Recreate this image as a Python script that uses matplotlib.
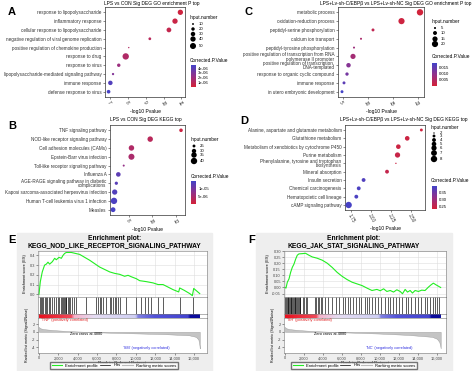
import numpy as np
import matplotlib.pyplot as plt
from matplotlib.colors import LinearSegmentedColormap, Normalize
from matplotlib.lines import Line2D
from matplotlib.patches import Rectangle

plt.rcParams['font.family'] = ['Liberation Sans', 'DejaVu Sans']

# ---------------- data ----------------
a_terms = ["response to lipopolysaccharide", "inflammatory response",
           "cellular response to lipopolysaccharide",
           "negative regulation of viral genome replication",
           "positive regulation of chemokine production", "response to drug",
           "response to virus", "lipopolysaccharide-mediated signaling pathway",
           "immune response", "defense response to virus"]
a_logp = [10.94, 10.64, 10.30, 9.23, 8.05, 7.88, 7.49, 7.17, 7.02, 6.92]
a_count = [40, 40, 33, 15, 8, 55, 20, 12, 30, 22]
a_padj = [2e-7, 4e-7, 6e-7, 1.0e-6, 1.2e-6, 1.3e-6, 2.0e-6, 2.8e-6, 4.2e-6, 4.5e-6]

b_terms = ["TNF signaling pathway", "NOD-like receptor signaling pathway",
           "Cell adhesion molecules (CAMs)", "Epstein-Barr virus infection",
           "Toll-like receptor signaling pathway", "Influenza A",
           "AGE-RAGE signaling pathway in diabetic\ncomplications",
           "Kaposi sarcoma-associated herpesvirus infection",
           "Human T-cell leukemia virus 1 infection", "Measles"]
b_logp = [12.46, 9.83, 8.23, 8.23, 7.57, 7.11, 6.94, 6.80, 6.74, 6.66]
b_count = [27, 35, 35, 38, 23, 31, 26, 34, 40, 32]
b_padj = [1e-6, 3e-6, 4e-6, 4.5e-6, 7e-6, 1.2e-5, 1.25e-5, 1.3e-5, 1.35e-5, 1.4e-5]

c_terms = ["metabolic process", "oxidation-reduction process",
           "peptidyl-serine phosphorylation", "calcium ion transport",
           "peptidyl-tyrosine phosphorylation",
           "positive regulation of transcription from RNA\npolymerase II promoter",
           "positive regulation of transcription,\nDNA-templated",
           "response to organic cyclic compound", "immune response",
           "in utero embryonic development"]
c_logp = [20.5, 16.8, 11.1, 8.7, 7.3, 7.1, 6.2, 5.9, 5.3, 4.9]
c_count = [21, 20, 7, 5, 5, 15, 12, 8, 7, 7]
c_padj = [0.0004, 0.001, 0.003, 0.006, 0.008, 0.007, 0.011, 0.013, 0.016, 0.019]

d_terms = ["Alanine, aspartate and glutamate metabolism", "Glutathione metabolism",
           "Metabolism of xenobiotics by cytochrome P450", "Purine metabolism",
           "Phenylalanine, tyrosine and tryptophan\nbiosynthesis",
           "Mineral absorption", "Insulin secretion", "Chemical carcinogenesis",
           "Hematopoietic cell lineage", "cAMP signaling pathway"]
d_logp = [2.625, 2.45, 2.34, 2.33, 2.31, 2.20, 1.91, 1.85, 1.82, 1.725]
d_count = [3, 5, 5, 6, 2, 4, 4, 4, 4, 8]
d_padj = [0.235, 0.24, 0.24, 0.245, 0.24, 0.25, 0.385, 0.39, 0.39, 0.395]

e_rank = [0, 140, 340, 580, 760, 930, 1100, 1380, 1620, 1790, 2070, 2310, 2480,
          2650, 2820, 3340, 4200, 5230, 6260, 7300, 7810, 8330, 8840, 9190, 9530,
          10050, 10390, 11080, 11770, 12290, 12800, 13300, 13830, 14420, 14520,
          15000, 15560, 15830, 15970, 16590]
e_es = [0.0, 0.13, 0.23, 0.30, 0.31, 0.33, 0.31, 0.335, 0.37, 0.355, 0.38, 0.37,
        0.40, 0.42, 0.43, 0.43, 0.41, 0.35, 0.28, 0.23, 0.215, 0.205, 0.185, 0.195,
        0.18, 0.16, 0.14, 0.13, 0.117, 0.10, 0.10, 0.075, 0.048, 0.024, 0.065,
        0.04, 0.007, -0.014, 0.06, 0.007]
e_hits = [60, 170, 280, 410, 580, 760, 830, 1030, 1170, 1380, 1510, 1790, 1960,
          2070, 2310, 2410, 2480, 2550, 2650, 2750, 2820, 2990, 3100, 3230, 3440,
          3580, 3850, 4890, 5920, 6130, 6260, 6430, 6600, 6880, 7290, 7470, 7640,
          7810, 7980, 8160, 8330, 9020, 10050, 10560, 10910, 11250, 11600, 12280,
          12800, 14520, 15900]
e_met_rank = [0, 100, 500, 1500, 3000, 4880, 7000, 10000, 13000, 15500, 16200,
              16450, 16560, 16590]
e_met = [1.3, 0.95, 0.7, 0.45, 0.2, 0.0, -0.2, -0.4, -0.6, -0.9, -1.3, -2.0,
         -3.5, -4.3]

f_rank = [0, 105, 245, 420, 594, 769, 944, 1119, 1294, 1469, 1818, 2168, 2517,
          2867, 3392, 3916, 4441, 4965, 5490, 6014, 6538, 7063, 7587, 8112, 8636,
          9161, 9685, 10035, 10385, 10734, 11084, 11434, 11783, 12133, 12378, 12657,
          12902, 13182, 13427, 13706, 14056, 14406, 14755, 15105, 15385, 15630,
          15909, 16154, 16399]
f_es = [0.0, -0.005, 0.044, 0.071, 0.126, 0.167, 0.194, 0.235, 0.268, 0.279,
        0.281, 0.284, 0.268, 0.254, 0.243, 0.227, 0.202, 0.167, 0.126, 0.093,
        0.066, 0.044, 0.030, 0.016, -0.005, -0.025, -0.016, -0.027, -0.011,
        -0.033, -0.025, -0.038, -0.019, -0.033, -0.052, -0.016, -0.038, -0.025,
        -0.046, -0.025, -0.033, -0.022, -0.025, 0.003, 0.022, 0.036, 0.022,
        0.011, 0.0]
f_hits = [50, 120, 200, 280, 350, 420, 520, 600, 680, 760, 850, 930, 1020, 1100,
          1180, 1280, 1360, 1450, 1540, 1620, 1900, 2050, 2200, 2350, 3150, 3300,
          3450, 3600, 3800, 3950, 4200, 4500, 4900, 5400, 5700, 6100, 6300, 6600,
          6900, 7200, 7500, 7800, 8000, 8400, 8600, 8900, 9200, 9500, 9800, 10100,
          10500, 10800, 11100, 11400, 11700, 12000, 12350, 12700, 13000, 13300,
          13700, 14000, 14300, 14700, 15000, 15300, 15600, 15800, 16000, 16200]
f_met_rank = [0, 100, 500, 1500, 3000, 4880, 7000, 10000, 13000, 15500, 16000,
              16250, 16350, 16400]
f_met = [1.3, 0.95, 0.7, 0.45, 0.2, 0.0, -0.2, -0.45, -0.8, -1.3, -1.8, -2.6,
         -3.6, -4.3]

# ---------------- layout helpers ----------------
W, H = 474, 371
fig = plt.figure(figsize=(W / 100, H / 100), dpi=100)


def px_axes(l, t, r, b, **kw):
    return fig.add_axes([l / W, 1 - b / H, (r - l) / W, (b - t) / H], **kw)


overlay = px_axes(0, 0, W, H)
overlay.set_xlim(0, W)
overlay.set_ylim(H, 0)
overlay.axis('off')
overlay.set_zorder(5)

cmap = LinearSegmentedColormap.from_list('rb', ['#d42238', '#93318a', '#4343c8'])


def size_of(n, lo, hi):
    return 1 + 20 * (np.asarray(n, float) - lo) / (hi - lo)


def dot_panel(box, terms, logp, count, padj, xlim, xticks, xticklabels, vlim,
              slo, shi, title, title_xy, breaks, leg_x, leg_title_y, leg_ys,
              cb_box, cticks, ctick_labels, ctitle_y):
    ax = px_axes(*box)
    n = len(terms)
    y = np.arange(n)[::-1]
    norm = Normalize(*vlim)
    ax.scatter(logp, y, s=size_of(count, slo, shi), c=padj, cmap=cmap, norm=norm,
               linewidths=0, zorder=3)
    ax.set_ylim(-0.6, n - 0.4)
    ax.set_xlim(*xlim)
    ax.set_yticks(y)
    ax.set_yticklabels(terms, fontsize=3.3, linespacing=0.9)
    ax.set_xticks(xticks)
    ax.set_xticklabels(xticklabels, fontsize=3.4, rotation=-60, ha='left',
                       rotation_mode='anchor')
    ax.tick_params(length=1.5, width=0.4, pad=1, colors='#333333')
    ax.set_xlabel('-log10 Pvalue', fontsize=3.6, labelpad=1)
    for s in ax.spines.values():
        s.set_linewidth(0.5)
        s.set_color('#333333')
    overlay.text(title_xy[0], title_xy[1], title, fontsize=3.5, ha='center',
                 va='center')
    # size legend
    overlay.text(leg_x, leg_title_y, 'Input.number', fontsize=3.4, va='center')
    overlay.scatter([leg_x + 3] * len(breaks), leg_ys, s=size_of(breaks, slo, shi),
                    c='black', linewidths=0)
    for b, yy in zip(breaks, leg_ys):
        overlay.text(leg_x + 9, yy, str(b), fontsize=3.1, va='center')
    # color legend
    overlay.text(leg_x, ctitle_y, 'Corrected.P.Value', fontsize=3.4, va='center')
    cax = px_axes(*cb_box)
    grad = np.linspace(vlim[0], vlim[1], 200)[:, None]
    cax.imshow(grad, aspect='auto', cmap=cmap, norm=norm, origin='lower',
               extent=[0, 1, vlim[0], vlim[1]])
    cax.set_xticks([])
    cax.yaxis.tick_right()
    cax.set_yticks(cticks)
    cax.set_yticklabels(ctick_labels, fontsize=3.1)
    cax.tick_params(axis='y', length=0, pad=2)
    for s in cax.spines.values():
        s.set_visible(False)
    return ax


dot_panel((105, 7, 185, 97), a_terms, a_logp, a_count, a_padj, (6.72, 11.2),
          [7, 8, 9, 10, 11], ['7', '8', '9', '10', '11'], (0, 4.64e-6), 8, 55,
          'LPS vs CON Sig DEG GO enrichment P top', (152, 3),
          [10, 20, 30, 40, 50], 190, 17, [24, 29, 34, 39, 46],
          (190.5, 65, 195, 87), [4e-6, 3e-6, 2e-6, 1e-6],
          ['4e-06', '3e-06', '2e-06', '1e-06'], 61)

dot_panel((110, 125, 185, 215), b_terms, b_logp, b_count, b_padj, (6.4, 12.8),
          [8, 10, 12], ['8', '10', '12'], (0, 1.44e-5), 22, 40,
          'LPS vs CON Sig DEG KEGG top', (146, 119.5),
          [25, 30, 35, 40], 191, 139, [146, 151, 155, 161],
          (191, 181, 195.5, 204), [1e-5, 5e-6], ['1e-05', '5e-06'], 176)

dot_panel((338, 7, 424, 97), c_terms, c_logp, c_count, c_padj, (4.1, 21.3),
          [5, 10, 15, 20], ['5', '10', '15', '20'], (0, 0.019), 4, 21,
          'LPS+Lv-sh-C/EBPβ vs LPS+Lv-sh-NC Sig DEG GO enrichment P top',
          (396, 3), [5, 10, 15, 20], 432, 21, [28, 33, 39, 44],
          (432, 63, 436.5, 86), [0.015, 0.010, 0.005],
          ['0.015', '0.010', '0.005'], 57)

dot_panel((345, 125, 425, 210), d_terms, d_logp, d_count, d_padj, (1.68, 2.67),
          [1.75, 2.0, 2.25, 2.5], ['1.75', '2.00', '2.25', '2.50'], (0.228, 0.40),
          2, 8, 'LPS+Lv-sh-C/EBPβ vs LPS+Lv-sh-NC Sig DEG KEGG top', (404, 119.7),
          [2, 3, 4, 5, 6, 7, 8], 431, 127, [133, 136, 140, 144, 148, 153, 159],
          (432, 186, 436.5, 209), [0.35, 0.30, 0.25], ['0.35', '0.30', '0.25'], 181)

# ---------------- GSEA panels ----------------
gsea_bar = LinearSegmentedColormap.from_list('gb', [
    (0.0, '#e8101e'), (0.2, '#f04a5a'), (0.215, '#f5b0c8'), (0.34, '#e6ddf3'),
    (0.6, '#cfcff3'), (0.615, '#8282e2'), (0.72, '#5252d8'), (0.93, '#4444d0'),
    (0.94, '#0c0c9c'), (1.0, '#0c0c9c')])


def gsea_panel(x0, x1, left, right, es_rank, es, hits, met_rank, met, title,
               es_ylim, es_ticks, es_ticklabels, xlim, xmax, pos_txt, neg_txt,
               zero_txt, zero_x, leg_l, leg_r):
    fig.patches.append(Rectangle((x0 / W, 0), (x1 - x0) / W, 1 - 233 / H,
                                 transform=fig.transFigure, color='#eeeeee',
                                 zorder=-1))
    overlay.text((x0 + x1) / 2, 238.5, 'Enrichment plot:', fontsize=4.8,
                 fontweight='bold', ha='center', va='center')
    overlay.text((x0 + x1) / 2, 245.5, title, fontsize=4.8, fontweight='bold',
                 ha='center', va='center')
    xt = np.arange(0, 16001, 2000)

    ax1 = px_axes(left, 251, right, 297)
    ax1.plot(es_rank, es, color='#22ee22', lw=0.8)
    ax1.set_xlim(*xlim)
    ax1.set_ylim(*es_ylim)
    ax1.set_yticks(es_ticks)
    ax1.set_yticklabels(es_ticklabels, fontsize=2.8)
    ax1.set_xticks(xt)
    ax1.set_xticklabels([])
    ax1.grid(True, color='#dddddd', lw=0.4)
    ax1.set_ylabel('Enrichment score (ES)', fontsize=2.8, labelpad=1.5)

    ax2 = px_axes(left, 297, right, 314)
    ax2.vlines(hits, 0, 1, color='black', lw=0.45)
    ax2.set_xlim(*xlim)
    ax2.set_ylim(0, 1)
    ax2.set_xticks([])
    ax2.set_yticks([])

    ax3 = px_axes(left, 314, right, 318)
    ax3.imshow(np.linspace(0, 1, 300)[None, :], aspect='auto', cmap=gsea_bar,
               extent=[0, xmax, 0, 1])
    ax3.set_xlim(*xlim)
    ax3.set_xticks([])
    ax3.set_yticks([])

    ax4 = px_axes(left, 318, right, 353)
    ax4.fill_between(met_rank, met, 0, color='#c4c4c4', lw=0.3,
                     edgecolor='#999999')
    ax4.set_xlim(*xlim)
    ax4.set_ylim(-5.5, 3.6)
    ax4.set_yticks([2, 0, -2, -4])
    ax4.set_yticklabels(['2', '0', '-2', '-4'], fontsize=2.8)
    ax4.set_xticks(xt)
    ax4.set_xticklabels(['{:,}'.format(v) for v in xt], fontsize=2.8)
    ax4.set_xlabel('Rank in Ordered Dataset', fontsize=3.2, labelpad=0.5)
    ax4.set_ylabel('Ranked list metric (Signal2Noise)', fontsize=2.6, labelpad=1.5)
    ax4.text(200, 3.0, pos_txt, color='#e02020', fontsize=2.8, va='center')
    ax4.text(xmax * 0.52, -4.2, neg_txt, color='#3030e0', fontsize=2.8,
             va='center')
    ax4.text(zero_x, -0.6, zero_txt, fontsize=2.8, ha='center', va='center')

    for a in (ax1, ax2, ax3, ax4):
        a.tick_params(length=1.2, width=0.4, pad=1, colors='#444444')
        for s in a.spines.values():
            s.set_linewidth(0.4)
            s.set_color('#777777')

    handles = [Line2D([], [], color='#22ee22', lw=0.8),
               Line2D([], [], color='black', lw=0.5),
               Line2D([], [], color='#bbbbbb', lw=0.8)]
    lax = px_axes(leg_l, 361, leg_r, 370)
    lax.axis('off')
    lax.legend(handles, ['Enrichment profile', 'Hits', 'Ranking metric scores'],
               loc='center', ncol=3, fontsize=3.0, frameon=True, fancybox=False,
               edgecolor='#555555', handlelength=2.5, columnspacing=3,
               borderpad=0.4, mode='expand', bbox_to_anchor=(0, 0, 1, 1))


gsea_panel(17, 212, 38, 207, e_rank, e_es, e_hits, e_met_rank, e_met,
           'KEGG_NOD_LIKE_RECEPTOR_SIGNALING_PATHWAY', (-0.028, 0.445),
           [0.0, 0.1, 0.2, 0.3, 0.4], ['0.0', '0.1', '0.2', '0.3', '0.4'],
           (-100, 17340), 16600, "'TNF' (positively correlated)",
           "'SM' (negatively correlated)", 'Zero cross at 4880', 4880, 48, 180)

gsea_panel(256, 452, 284, 446, f_rank, f_es, f_hits, f_met_rank, f_met,
           'KEGG_JAK_STAT_SIGNALING_PATHWAY', (-0.079, 0.303),
           [-0.05, 0.0, 0.05, 0.1, 0.15, 0.2, 0.25, 0.3],
           ['-0.05', '0.00', '0.05', '0.10', '0.15', '0.20', '0.25', '0.30'],
           (-105, 16960), 16400, "'SH' (positively correlated)",
           "'NC' (negatively correlated)", 'Zero cross at 4880', 4800, 289, 419)

# panel letters
for letter, x, y in [('A', 8, 12), ('B', 8, 126), ('C', 245, 12), ('D', 240, 121),
                     ('E', 8, 240), ('F', 248, 240)]:
    overlay.text(x, y, letter, fontsize=8, fontweight='bold', va='center')

fig.savefig('out.png', dpi=100)
